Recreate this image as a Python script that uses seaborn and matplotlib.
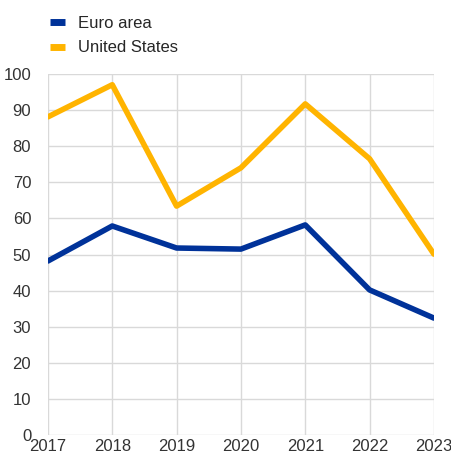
import matplotlib
matplotlib.use("Agg")
import matplotlib.pyplot as plt
import seaborn as sns
import pandas as pd
from matplotlib.lines import Line2D

years = [2017, 2018, 2019, 2020, 2021, 2022, 2023]
euro_area = [48.2, 57.9, 51.8, 51.5, 58.2, 40.2, 32.4]
united_states = [88.1, 97.0, 63.4, 74.0, 91.7, 76.5, 50.1]
series_names = ["Euro area", "United States"]
colors = ["#003299", "#FFB400"]

df = pd.DataFrame({
    "year": years * 2,
    "value": euro_area + united_states,
    "series": [series_names[0]] * len(years) + [series_names[1]] * len(years),
})

sns.set_style("white")
plt.rcParams["font.family"] = ["Liberation Sans", "DejaVu Sans"]

fig = plt.figure(figsize=(4.52, 4.59), dpi=100)
ax = fig.add_axes([0.106, 0.052, 0.854, 0.787])
sns.lineplot(data=df, x="year", y="value", hue="series", palette=colors,
             linewidth=4, ax=ax, legend=False)

ax.set_xlim(2017, 2023)
ax.set_ylim(0, 100)
ax.set_xticks(years)
ax.set_yticks(range(0, 101, 10))
ax.set_xlabel("")
ax.set_ylabel("")
ax.grid(True, color="#d9d9d9", linewidth=1)
ax.set_axisbelow(True)
for s in ax.spines.values():
    s.set_visible(False)
ax.tick_params(axis="both", length=0, labelsize=12, colors="#333333")
ax.tick_params(axis="x", pad=3)
ax.tick_params(axis="y", pad=12)

handles = [Line2D([0], [0], color=c, linewidth=5, solid_capstyle="butt") for c in colors]
fig.legend(handles, series_names, loc="upper left", bbox_to_anchor=(0.085, 0.99),
           frameon=False, fontsize=12, handlelength=0.9, handletextpad=0.78,
           labelspacing=0.55, borderaxespad=0.3)

fig.savefig("out.png", dpi=100)
